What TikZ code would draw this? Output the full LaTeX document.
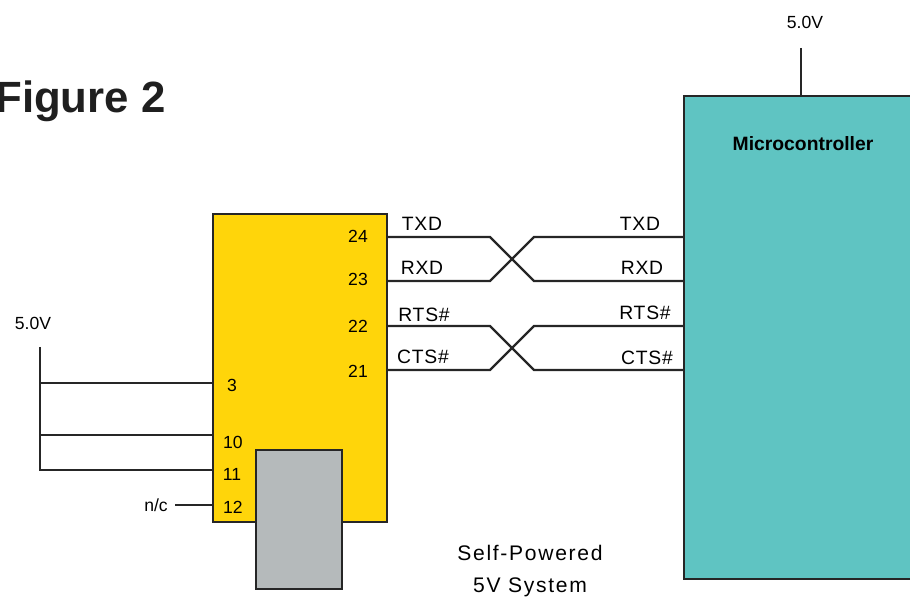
\documentclass[tikz,border=0pt]{standalone}
\usepackage{fontspec}
\setmainfont{Liberation Sans}
\definecolor{chipyellow}{HTML}{FFD50A}
\definecolor{mcuteal}{HTML}{5FC4C2}
\definecolor{plugray}{HTML}{B5BABB}
\tikzset{
    block/.style={draw=black!85,line width=1.5pt,inner sep=0pt,outer sep=0pt,anchor=north west},
    wire/.style={draw=black!85,line width=1.4pt},
    sig/.style={font=\fontsize{11}{11}\selectfont\addfontfeature{LetterSpace=4},inner sep=0pt},
    pin/.style={font=\fontsize{10}{10}\selectfont,inner sep=0pt},
    note/.style={font=\fontsize{12}{18.2}\selectfont\addfontfeature{LetterSpace=8},inner sep=0pt}
}
\begin{document}
\begin{tikzpicture}[x=0.02cm,y=-0.02cm]
    \clip (0,0) rectangle (910,597);
    \node[block,fill=chipyellow,minimum width=3.48cm,minimum height=6.16cm] (chip) at (213,214) {};
    \node[block,fill=plugray,minimum width=1.72cm,minimum height=2.78cm] (plug) at (256,450) {};
    \node[block,fill=mcuteal,minimum width=4.8cm,minimum height=9.66cm] (mcu) at (684,96) {};
    \node[font=\fontsize{24.9}{24.9}\selectfont\bfseries,text=black!88,inner sep=0pt,anchor=west] (title) at (-5,101) {Figure 2};
    \node[pin] (p24) at (358,236) {24};
    \node[pin] (p23) at (358,279) {23};
    \node[pin] (p22) at (358,326) {22};
    \node[pin] (p21) at (358,371) {21};
    \node[pin] (p3) at (232,385) {3};
    \node[pin] (p10) at (233,442) {10};
    \node[pin] (p11) at (232,474) {11};
    \node[pin] (p12) at (233,507) {12};
    \node[sig] (ltxd) at (422,224) {TXD};
    \node[sig] (lrxd) at (422,268) {RXD};
    \node[sig] (lrts) at (424,315) {RTS\#};
    \node[sig] (lcts) at (423,357) {CTS\#};
    \node[sig] (rtxd) at (640,224) {TXD};
    \node[sig] (rrxd) at (642,268) {RXD};
    \node[sig] (rrts) at (645,313) {RTS\#};
    \node[sig] (rcts) at (647,358) {CTS\#};
    \node[pin] (vleft) at (33,323) {5.0V};
    \node[pin] (vtop) at (805,22) {5.0V};
    \node[pin] (nc) at (156,505) {n/c};
    \node[pin,font=\fontsize{11}{11}\selectfont\bfseries] (mculabel) at (803,144) {Microcontroller};
    \node[note,align=center] (system) at (530,571) {Self-Powered\\5V System};
    \coordinate (a1) at (387,237);
    \coordinate (a2) at (490,237);
    \coordinate (a3) at (534,281);
    \coordinate (a4) at (684,281);
    \coordinate (b1) at (387,281);
    \coordinate (b2) at (490,281);
    \coordinate (b3) at (534,237);
    \coordinate (b4) at (684,237);
    \coordinate (c1) at (387,326);
    \coordinate (c2) at (490,326);
    \coordinate (c3) at (534,370);
    \coordinate (c4) at (684,370);
    \coordinate (d1) at (387,370);
    \coordinate (d2) at (490,370);
    \coordinate (d3) at (534,326);
    \coordinate (d4) at (684,326);
    \draw[wire] (a1) -- (a2) -- (a3) -- (a4);
    \draw[wire] (b1) -- (b2) -- (b3) -- (b4);
    \draw[wire] (c1) -- (c2) -- (c3) -- (c4);
    \draw[wire] (d1) -- (d2) -- (d3) -- (d4);
    \coordinate (busTop) at (40,347);
    \coordinate (bus3) at (40,383);
    \coordinate (bus10) at (40,435);
    \coordinate (bus11) at (40,470);
    \coordinate (in3) at (213,383);
    \coordinate (in10) at (213,435);
    \coordinate (in11) at (213,470);
    \coordinate (in12) at (213,505);
    \coordinate (ncEnd) at (175,505);
    \coordinate (vStub) at (801,48);
    \coordinate (vFoot) at (801,96);
    \draw[wire] (busTop) -- (bus11) -- (in11);
    \draw[wire] (bus3) -- (in3);
    \draw[wire] (bus10) -- (in10);
    \draw[wire] (ncEnd) -- (in12);
    \draw[wire] (vStub) -- (vFoot);
\end{tikzpicture}
\end{document}
